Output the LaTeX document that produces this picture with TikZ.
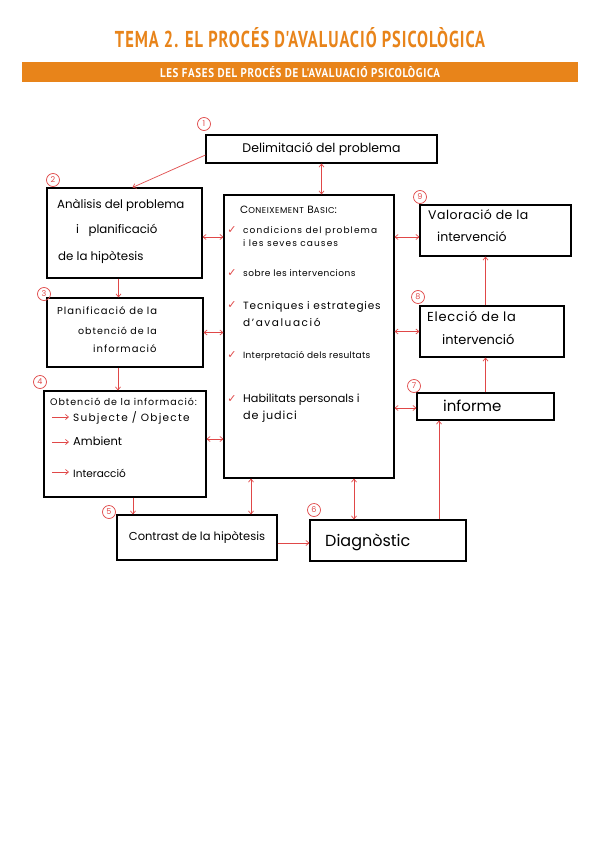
\documentclass[tikz,border=0pt]{standalone}
\usepackage{fontspec}
\setmainfont{Poppins}
\newfontfamily\titlefont{PT Sans}
\newfontfamily\symfont{DejaVu Sans}
\usetikzlibrary{arrows.meta}
\definecolor{orangec}{HTML}{E8841A}
\definecolor{redc}{HTML}{E04848}
\newcommand{\fsz}[1]{\fontsize{#1}{#1}\selectfont}
\newcommand{\lsp}[1]{\addfontfeature{LetterSpace=#1}}
\tikzset{
  box/.style={draw=black, line width=1.1pt, inner sep=0pt},
  conn/.style={draw=redc, line width=0.7pt},
  tip/.style={-{Straight Barb[length=3pt,width=5pt]}},
  dtip/.style={{Straight Barb[length=3pt,width=5pt]}-{Straight Barb[length=3pt,width=5pt]}},
  num/.style={circle, draw=redc, line width=0.7pt, text=redc, inner sep=0pt, minimum size=13pt, font=\fsz{8}},
  txt/.style={anchor=base west, inner sep=0pt},
  chk/.style={anchor=base, inner sep=0pt, text=redc, font=\symfont\fsz{11}},
}
\begin{document}
\begin{tikzpicture}[x=1pt,y=-1pt]
\useasboundingbox (0,0) rectangle (600,848);
\fill[white] (0,0) rectangle (600,848);

% title and bar
\node[inner sep=0pt, text=orangec] (title) at (300,38) {\resizebox{370pt}{20pt}{\titlefont\bfseries\addfontfeature{LetterSpace=6}TEMA 2. EL PROCÉS D'AVALUACIÓ PSICOLÒGICA}};
\node[fill=orangec, minimum width=556pt, minimum height=20pt, inner sep=0pt, text=white] (bar) at (300,72) {\resizebox{280pt}{11pt}{\titlefont\bfseries\addfontfeature{LetterSpace=6}LES FASES DEL PROCÉS DE L'AVALUACIÓ PSICOLÒGICA}};

% boxes
\node[box, minimum width=231pt, minimum height=28pt, font=\fsz{12.5}] (b1) at (321.5,149) {Delimitació del problema};
\node[box, minimum width=155pt, minimum height=90pt] (b2) at (124.5,233) {};
\node[box, minimum width=156pt, minimum height=69pt] (b3) at (125,332.5) {};
\node[box, minimum width=162pt, minimum height=106pt] (b4) at (125,444) {};
\node[box, minimum width=160pt, minimum height=45pt, font=\fsz{11.5}] (b5) at (197,537.5) {Contrast de la hipòtesis};
\node[box, minimum width=156pt, minimum height=41pt] (b6) at (388,540.5) {};
\node[box, minimum width=137pt, minimum height=27pt] (b7) at (485.5,406.5) {};
\node[box, minimum width=144pt, minimum height=51pt] (b8) at (492,331.5) {};
\node[box, minimum width=151pt, minimum height=51pt] (b9) at (495.5,230.5) {};
\node[box, minimum width=170pt, minimum height=283pt] (cb) at (309,336.5) {};

% numbers
\node[num] (n1) at (204,124) {1};
\node[num] (n2) at (53,180) {2};
\node[num] (n3) at (44,294) {3};
\node[num] (n4) at (40,382) {4};
\node[num] (n5) at (109,512) {5};
\node[num] (n6) at (314,510) {6};
\node[num] (n7) at (414,386) {7};
\node[num] (n8) at (418,297) {8};
\node[num] (n9) at (420,197) {9};

% box 2 text
\node[txt, font=\fsz{11.8}] (t2a) at (57,208) {Anàlisis del problema};
\node[txt, font=\fsz{11.8}] (t2b) at (76,233) {i\ \ \ planificació};
\node[txt, font=\fsz{11.8}] (t2c) at (58,260) {de la hipòtesis};
% box 3 text
\node[txt, font=\fsz{10}\lsp{10}] (t3a) at (57,314) {Planificació de la};
\node[txt, font=\fsz{9.5}\lsp{10}] (t3b) at (78,334) {obtenció de la};
\node[txt, font=\fsz{10}\lsp{10}] (t3c) at (93,352) {informació};
% box 4 text
\node[txt, font=\fsz{9.5}\lsp{10}] (t4a) at (50,405) {Obtenció de la informació:};
\node[txt, font=\fsz{10.5}\lsp{12}] (t4b) at (73,421) {Subjecte / Objecte};
\node[txt, font=\fsz{11.5}] (t4c) at (73,445) {Ambient};
\node[txt, font=\fsz{10.5}] (t4d) at (73,477) {Interacció};
\coordinate (a4b) at (52,417);
\coordinate (a4c) at (52,442);
\coordinate (a4d) at (52,472);
\draw[conn, tip] (a4b) -- ([xshift=-4pt]t4b.west |- a4b);
\draw[conn, tip] (a4c) -- ([xshift=-4pt]t4c.west |- a4c);
\draw[conn, tip] (a4d) -- ([xshift=-4pt]t4d.west |- a4d);
% box 6,7,8,9 text
\node[txt, font=\fsz{16}] (t6) at (325,546) {Diagnòstic};
\node[txt, font=\fsz{15}] (t7) at (443,411) {informe};
\node[txt, font=\fsz{13}\lsp{6}] (t8a) at (427,321) {Elecció de la};
\node[txt, font=\fsz{13}] (t8b) at (442,344) {intervenció};
\node[txt, font=\fsz{12.5}\lsp{4}] (t9a) at (428,219) {Valoració de la};
\node[txt, font=\fsz{12.5}] (t9b) at (437,241) {intervenció};

% central box text
\node[txt, font=\fsz{10.5}\lsp{6}] (tc0) at (240,213) {C{\fsz{8.5}ONEIXEMENT} B{\fsz{8.5}ASIC}:};
\node[chk] (k1) at (232,233) {✓};
\node[txt, font=\fsz{9}\lsp{12}] (tc1a) at (243,233) {condicions del problema};
\node[txt, font=\fsz{9}\lsp{12}] (tc1b) at (243,246) {i les seves causes};
\node[chk] (k2) at (232,276) {✓};
\node[txt, font=\fsz{9}\lsp{5}] (tc2) at (243,276) {sobre les intervencions};
\node[chk] (k3) at (232,308) {✓};
\node[txt, font=\fsz{10.5}\lsp{8}] (tc3a) at (243,309) {Tecniques i estrategies};
\node[txt, font=\fsz{10.5}\lsp{15}] (tc3b) at (243,326) {d'avaluació};
\node[chk] (k4) at (232,358) {✓};
\node[txt, font=\fsz{9}\lsp{3}] (tc4) at (243,358) {Interpretació dels resultats};
\node[chk] (k5) at (232,402) {✓};
\node[txt, font=\fsz{11.2}] (tc5a) at (243,402) {Habilitats personals i};
\node[txt, font=\fsz{11.2}\lsp{8}] (tc5b) at (243,419) {de judici};

% connectors
\draw[conn, tip] ([yshift=-6pt]b1.west) -- ([xshift=8pt]b2.north);
\draw[conn, dtip] (b1.south) -- (b1.south |- cb.north);
\draw[conn, dtip] ([yshift=-4pt]b2.east) -- ([yshift=-4pt]b2.east -| cb.west);
\draw[conn, tip] ([xshift=-6pt]b2.south) -- ([xshift=-6pt]b2.south |- b3.north);
\draw[conn, dtip] (b3.east) -- (b3.east -| cb.west);
\draw[conn, tip] ([xshift=-7pt]b3.south) -- ([xshift=-7pt]b3.south |- b4.north);
\draw[conn, dtip] ([yshift=5pt]b4.east) -- ([yshift=5pt]b4.east -| cb.west);
\draw[conn, tip] ([xshift=8pt]b4.south) -- ([xshift=8pt]b4.south |- b5.north);
\draw[conn, dtip] ([xshift=-58pt]cb.south) -- ([xshift=-58pt]cb.south |- b5.north);
\draw[conn, dtip] ([xshift=45pt]cb.south) -- ([xshift=45pt]cb.south |- b6.north);
\draw[conn, tip] ([yshift=-5.5pt]b5.east) -- ([yshift=-5.5pt]b5.east -| b6.west);
\draw[conn, tip] ([xshift=51pt]b6.north) -- ([xshift=51pt]b6.north |- b7.south);
\draw[conn, tip] (b7.north) -- (b7.north |- b8.south);
\draw[conn, tip] (b7.north |- b8.north) -- (b7.north |- b9.south);
\draw[conn, dtip] ([yshift=-6.5pt]b9.west -| cb.east) -- ([yshift=-6.5pt]b9.west);
\draw[conn, dtip] (b8.west -| cb.east) -- (b8.west);
\draw[conn, dtip] ([yshift=-1.5pt]b7.west -| cb.east) -- ([yshift=-1.5pt]b7.west);
\end{tikzpicture}
\end{document}
